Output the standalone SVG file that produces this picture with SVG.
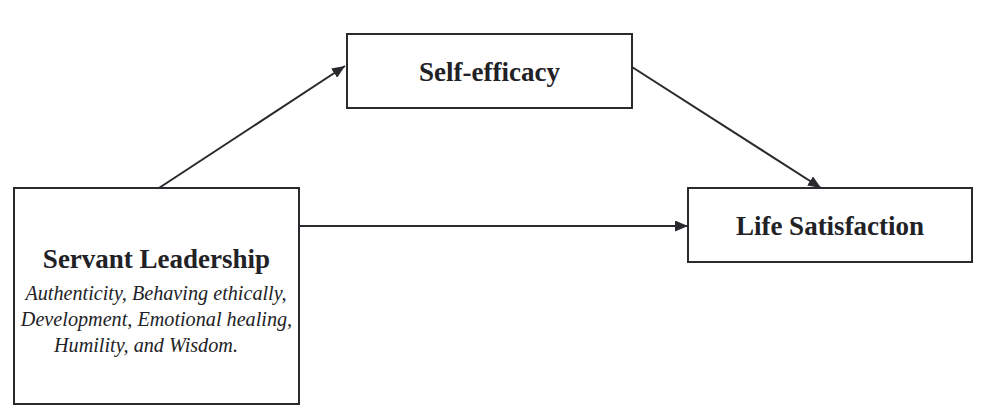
<svg xmlns="http://www.w3.org/2000/svg" width="986" height="419" viewBox="0 0 986 419">
<style>
.box{fill:#fff;stroke:#2a2a2e;stroke-width:2}
.conn{stroke:#2a2a2e;stroke-width:2;fill:none}
.title{font-family:"Liberation Serif","Times New Roman",serif;font-weight:bold;font-size:27px;fill:#222226;text-anchor:middle}
.sub{font-family:"Liberation Serif","Times New Roman",serif;font-style:italic;font-size:20.2px;fill:#222226}
</style>
<defs>
<marker id="arr" viewBox="0 0 13 11" refX="13" refY="5.5" markerWidth="13" markerHeight="11" markerUnits="userSpaceOnUse" orient="auto">
<path d="M0,0 L13,5.5 L0,11 Z" fill="#2a2a2e"/>
</marker>
</defs>
<rect width="986" height="419" fill="#fff"/>
<g id="connectors">
<line class="conn" x1="159" y1="188" x2="345" y2="66" marker-end="url(#arr)"/>
<line class="conn" x1="632" y1="67" x2="821" y2="188" marker-end="url(#arr)"/>
<line class="conn" x1="299" y1="226" x2="688" y2="226" marker-end="url(#arr)"/>
</g>
<g id="servant-leadership">
<rect class="box" x="14" y="188" width="285" height="216"/>
<text class="title" x="156.5" y="268">Servant Leadership</text>
<text class="sub" x="156" y="300" text-anchor="middle">Authenticity, Behaving ethically,</text>
<text class="sub" x="156.5" y="326" text-anchor="middle">Development, Emotional healing,</text>
<text class="sub" x="54" y="352">Humility, and Wisdom.</text>
</g>
<g id="self-efficacy">
<rect class="box" x="347" y="34" width="285" height="74"/>
<text class="title" x="489.5" y="81">Self-efficacy</text>
</g>
<g id="life-satisfaction">
<rect class="box" x="688" y="188" width="284" height="74"/>
<text class="title" x="830" y="235">Life Satisfaction</text>
</g>
</svg>
